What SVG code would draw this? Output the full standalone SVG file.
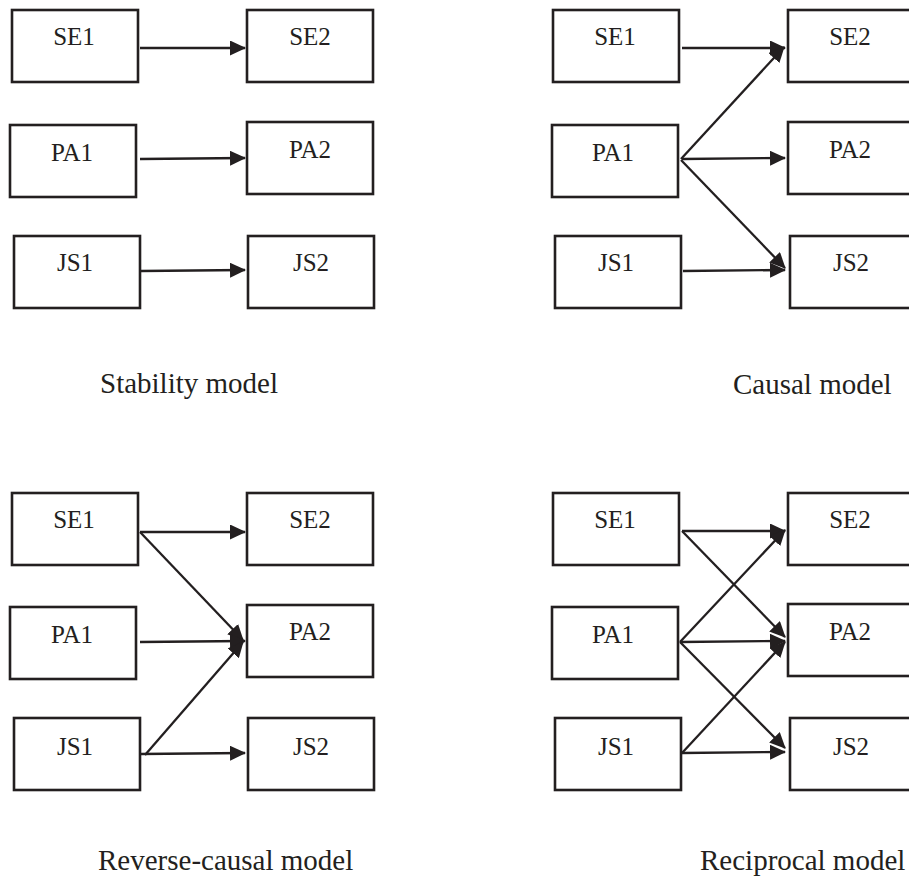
<svg xmlns="http://www.w3.org/2000/svg" width="909" height="881" viewBox="0 0 909 881">
<style>
.box{fill:#fff;stroke:#231f20;stroke-width:2.6}
.lbl{font-size:25px;fill:#231f20;text-anchor:middle}
.cap{font-size:29px;fill:#231f20}
.arr{stroke:#231f20;stroke-width:2.3;fill:none;marker-end:url(#ah)}
</style>
<defs>
<marker id="ah" markerUnits="userSpaceOnUse" markerWidth="16" markerHeight="15" refX="15" refY="7.5" orient="auto">
<path d="M0,0 L16,7.5 L0,15 z" fill="#231f20"/>
</marker>
</defs>
<rect width="909" height="881" fill="#fff"/>

<g font-family="'Liberation Serif', 'DejaVu Serif', 'Times New Roman', serif">
<!-- Stability model -->
<g id="tl-SE1"><rect class="box" x="12" y="10" width="126" height="72"/><text class="lbl" x="74" y="45">SE1</text></g>
<g id="tl-SE2"><rect class="box" x="247" y="10" width="126" height="72"/><text class="lbl" x="310" y="45">SE2</text></g>
<g id="tl-PA1"><rect class="box" x="10" y="125" width="126" height="72"/><text class="lbl" x="72" y="161">PA1</text></g>
<g id="tl-PA2"><rect class="box" x="247" y="122" width="126" height="72"/><text class="lbl" x="310" y="158">PA2</text></g>
<g id="tl-JS1"><rect class="box" x="14" y="236" width="126" height="72"/><text class="lbl" x="75" y="271">JS1</text></g>
<g id="tl-JS2"><rect class="box" x="248" y="236" width="126" height="72"/><text class="lbl" x="311" y="271">JS2</text></g>
<text class="cap" x="100" y="393">Stability model</text>

<!-- Causal model -->
<g id="tr-SE1"><rect class="box" x="553" y="10" width="126" height="72"/><text class="lbl" x="615" y="45">SE1</text></g>
<g id="tr-SE2"><rect class="box" x="788" y="10" width="126" height="72"/><text class="lbl" x="850" y="45">SE2</text></g>
<g id="tr-PA1"><rect class="box" x="552" y="125" width="126" height="72"/><text class="lbl" x="613" y="161">PA1</text></g>
<g id="tr-PA2"><rect class="box" x="788" y="122" width="126" height="72"/><text class="lbl" x="850" y="158">PA2</text></g>
<g id="tr-JS1"><rect class="box" x="555" y="236" width="126" height="72"/><text class="lbl" x="616" y="271">JS1</text></g>
<g id="tr-JS2"><rect class="box" x="790" y="236" width="126" height="72"/><text class="lbl" x="851" y="271">JS2</text></g>
<text class="cap" x="733" y="394">Causal model</text>

<!-- Reverse-causal model -->
<g id="bl-SE1"><rect class="box" x="12" y="493" width="126" height="72"/><text class="lbl" x="74" y="528">SE1</text></g>
<g id="bl-SE2"><rect class="box" x="247" y="493" width="126" height="72"/><text class="lbl" x="310" y="528">SE2</text></g>
<g id="bl-PA1"><rect class="box" x="10" y="607" width="126" height="72"/><text class="lbl" x="72" y="643">PA1</text></g>
<g id="bl-PA2"><rect class="box" x="247" y="605" width="126" height="72"/><text class="lbl" x="310" y="640">PA2</text></g>
<g id="bl-JS1"><rect class="box" x="14" y="718" width="126" height="72"/><text class="lbl" x="75" y="755">JS1</text></g>
<g id="bl-JS2"><rect class="box" x="248" y="718" width="126" height="72"/><text class="lbl" x="311" y="755">JS2</text></g>
<text class="cap" x="98" y="870">Reverse-causal model</text>

<!-- Reciprocal model -->
<g id="br-SE1"><rect class="box" x="553" y="493" width="126" height="72"/><text class="lbl" x="615" y="528">SE1</text></g>
<g id="br-SE2"><rect class="box" x="788" y="493" width="126" height="72"/><text class="lbl" x="850" y="528">SE2</text></g>
<g id="br-PA1"><rect class="box" x="552" y="607" width="126" height="72"/><text class="lbl" x="613" y="643">PA1</text></g>
<g id="br-PA2"><rect class="box" x="788" y="604" width="126" height="72"/><text class="lbl" x="850" y="640">PA2</text></g>
<g id="br-JS1"><rect class="box" x="555" y="718" width="126" height="72"/><text class="lbl" x="616" y="755">JS1</text></g>
<g id="br-JS2"><rect class="box" x="790" y="718" width="126" height="72"/><text class="lbl" x="851" y="755">JS2</text></g>
<text class="cap" x="700" y="870">Reciprocal model</text>
</g>

<g id="connectors">
<line class="arr" x1="140" y1="48" x2="245" y2="48"/>
<line class="arr" x1="140" y1="159" x2="245" y2="158"/>
<line class="arr" x1="141" y1="271" x2="245" y2="270"/>

<line class="arr" x1="682" y1="48" x2="785" y2="48"/>
<line class="arr" x1="681" y1="159" x2="784" y2="47"/>
<line class="arr" x1="682" y1="159" x2="785" y2="158"/>
<line class="arr" x1="681" y1="160" x2="785" y2="268"/>
<line class="arr" x1="683" y1="271" x2="785" y2="270"/>

<line class="arr" x1="140" y1="532" x2="245" y2="532"/>
<line class="arr" x1="140" y1="532" x2="243" y2="640"/>
<line class="arr" x1="140" y1="642" x2="245" y2="641"/>
<line class="arr" x1="145" y1="755" x2="243" y2="642"/>
<line class="arr" x1="140" y1="754" x2="245" y2="753"/>

<line class="arr" x1="682" y1="531" x2="785" y2="531"/>
<line class="arr" x1="682" y1="531" x2="785" y2="637"/>
<line class="arr" x1="680" y1="642" x2="785" y2="530"/>
<line class="arr" x1="680" y1="642" x2="785" y2="641"/>
<line class="arr" x1="680" y1="642" x2="785" y2="748"/>
<line class="arr" x1="682" y1="753" x2="785" y2="642"/>
<line class="arr" x1="682" y1="753" x2="785" y2="752"/>
</g>
</svg>
